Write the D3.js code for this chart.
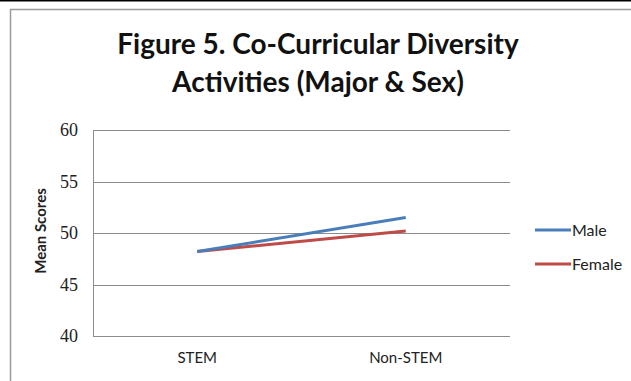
<!DOCTYPE html>
<html>
<head>
<meta charset="utf-8">
<script src="https://cdn.jsdelivr.net/npm/d3@7"></script>
<style>
  body { margin: 0; background: #fff; }
  text { font-family: Lato, "Open Sans", sans-serif; }
</style>
</head>
<body>
<svg id="chart"></svg>
<script>
const categories = ["STEM", "Non-STEM"];
const seriesNames = ["Male", "Female"];
const maleValues = [48.2, 51.5];
const femaleValues = [48.2, 50.2];
const yTicks = [40, 45, 50, 55, 60];
const titleLines = ["Figure 5. Co-Curricular Diversity", "Activities (Major & Sex)"];
const colors = ["#4a7ebb", "#be4b48"];

const W = 631, H = 381;
const margin = { top: 130, right: 121, bottom: 45, left: 93 };
const width = W - margin.left - margin.right;
const height = 336 - margin.top;

const svg = d3.select("#chart")
  .attr("width", W)
  .attr("height", H);

// top black rule and chart frame
svg.append("line")
  .attr("x1", 0).attr("x2", W)
  .attr("y1", 0.5).attr("y2", 0.5)
  .attr("stroke", "#000")
  .attr("stroke-width", 2);
svg.append("rect")
  .attr("x", 10.5).attr("y", 9.5)
  .attr("width", W + 10).attr("height", H + 10)
  .attr("fill", "none")
  .attr("stroke", "#9a9a9a")
  .attr("stroke-width", 1.5);

svg.append("g")
  .selectAll("text")
  .data(titleLines)
  .enter()
  .append("text")
  .attr("x", 318)
  .attr("y", (d, i) => 54 + i * 38)
  .attr("text-anchor", "middle")
  .style("font-size", "28px")
  .style("font-weight", "bold")
  .style("fill", "#111")
  .text(d => d);

const chart = svg.append("g")
  .attr("transform", `translate(${margin.left}, ${margin.top})`);

const x = d3.scaleBand()
  .domain(categories)
  .range([0, width]);

const y = d3.scaleLinear()
  .domain([40, 60])
  .range([height, 0]);

// gridlines
chart.append("g")
  .selectAll("line")
  .data(yTicks)
  .enter()
  .append("line")
  .attr("x1", 0).attr("x2", width)
  .attr("y1", d => Math.round(y(d)) + 0.5)
  .attr("y2", d => Math.round(y(d)) + 0.5)
  .attr("stroke", "#8c8c8c")
  .attr("stroke-width", 1);

// y axis
const yAxis = chart.append("g")
  .call(d3.axisLeft(y).tickValues(yTicks).tickSize(0).tickPadding(15));
yAxis.select(".domain")
  .attr("stroke", "#8c8c8c");
yAxis.selectAll("text")
  .attr("font-family", null)
  .style("font-family", "'Liberation Serif', 'DejaVu Serif', serif")
  .style("font-size", "18px")
  .style("fill", "#222");

// x axis labels
const xAxis = chart.append("g")
  .attr("transform", `translate(0, ${height})`)
  .call(d3.axisBottom(x).tickSize(0).tickPadding(16));
xAxis.select(".domain").remove();
xAxis.selectAll("text")
  .style("font-family", "Lato, sans-serif")
  .style("font-size", "15px")
  .style("fill", "#222");

svg.append("text")
  .attr("transform", `translate(46, ${margin.top + height / 2 - 2}) rotate(-90)`)
  .attr("text-anchor", "middle")
  .style("font-size", "15px")
  .style("font-weight", "bold")
  .style("fill", "#222")
  .text("Mean Scores");

const series = [maleValues, femaleValues].map((vals, i) => ({
  name: seriesNames[i],
  color: colors[i],
  values: vals.map((v, j) => ({ cat: categories[j], value: v })),
}));

const line = d3.line()
  .x(d => x(d.cat) + x.bandwidth() / 2)
  .y(d => y(d.value));

// draw female first so male sits on top at the shared start
chart.selectAll(".line")
  .data(series.slice().reverse())
  .enter()
  .append("path")
  .attr("class", "line")
  .attr("d", d => line(d.values))
  .attr("stroke", d => d.color)
  .style("stroke-width", 3)
  .style("fill", "none");

const legend = svg.append("g")
  .attr("transform", "translate(535, 230)");
const item = legend.selectAll("g")
  .data(series)
  .enter()
  .append("g")
  .attr("transform", (d, i) => `translate(0, ${i * 34})`);
item.append("line")
  .attr("x1", 0).attr("x2", 36)
  .attr("stroke", d => d.color)
  .attr("stroke-width", 3);
item.append("text")
  .attr("x", 37)
  .attr("y", 5.5)
  .style("font-size", "16px")
  .style("fill", "#222")
  .text(d => d.name);
</script>
</body>
</html>
